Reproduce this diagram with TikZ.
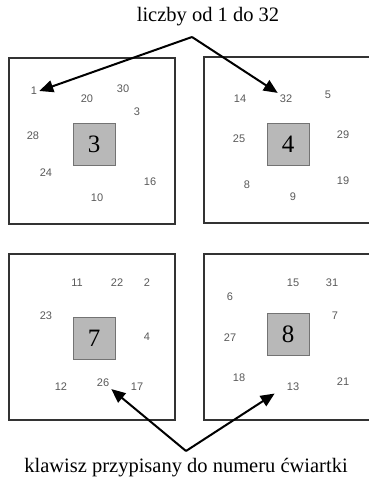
\documentclass[tikz,border=0pt]{standalone}
\usepackage{fontspec}
\setmainfont{Liberation Serif}
\newfontfamily\numfont{Liberation Sans}
\usetikzlibrary{arrows.meta}

\tikzset{
  quarter/.style={draw=black!80, line width=1.6bp, minimum width=166bp, minimum height=166bp, inner sep=0pt},
  keybox/.style={draw=black!55, fill=black!28, line width=0.8bp, minimum size=42bp, inner sep=0pt, font=\fontsize{25bp}{25bp}\selectfont},
  num/.style={text=black!65, font=\numfont\fontsize{11bp}{12bp}\selectfont, inner sep=2bp},
  caption/.style={font=\fontsize{20.5bp}{24bp}\selectfont, inner sep=0pt},
  pointer/.style={line width=2bp, -{Triangle[length=14bp,width=12bp]}}
}

\begin{document}
\begin{tikzpicture}[x=1bp, y=-1bp]
  \useasboundingbox (0,0) rectangle (368,477);

  % quarters
  \node[quarter] (qa) at (92,141) {};
  \node[quarter] (qb) at (287,140) {};
  \node[quarter] (qc) at (92,337) {};
  \node[quarter] (qd) at (287,337) {};

  % keys
  \node[keybox] (k3) at (94,144) {3};
  \node[keybox] (k4) at (288,144) {4};
  \node[keybox] (k7) at (94,338) {7};
  \node[keybox] (k8) at (288,334) {8};

  % numbers
  \foreach \n/\x/\y in {1/34/91, 20/87/99, 30/123/89, 3/137/112, 28/33/136, 24/46/173, 16/150/182, 10/97/198,
                        14/240/99, 32/286/99, 5/328/95, 25/239/139, 29/343/135, 8/247/185, 9/293/197, 19/343/181,
                        11/77/283, 22/117/283, 2/147/283, 23/46/316, 4/147/337, 12/61/387, 26/103/383, 17/137/387,
                        6/230/297, 15/293/283, 31/332/283, 7/335/316, 27/230/338, 18/239/378, 13/293/387, 21/343/382}
    \node[num] (n\n) at (\x,\y) {\n};

  % captions
  \node[caption] (top) at (208,17) {liczby od 1 do 32};
  \node[caption] (bottom) at (186,468) {klawisz przypisany do numeru ćwiartki};
  \coordinate (topapex) at (192,37);
  \coordinate (botapex) at (186,451);

  \draw[pointer] (topapex) -- (n1.east);
  \draw[pointer] (topapex) -- (n32.north west);
  \draw[pointer] (botapex) -- (n26.south east);
  \draw[pointer, shorten >=12bp] (botapex) -- (n13.west);
\end{tikzpicture}
\end{document}
